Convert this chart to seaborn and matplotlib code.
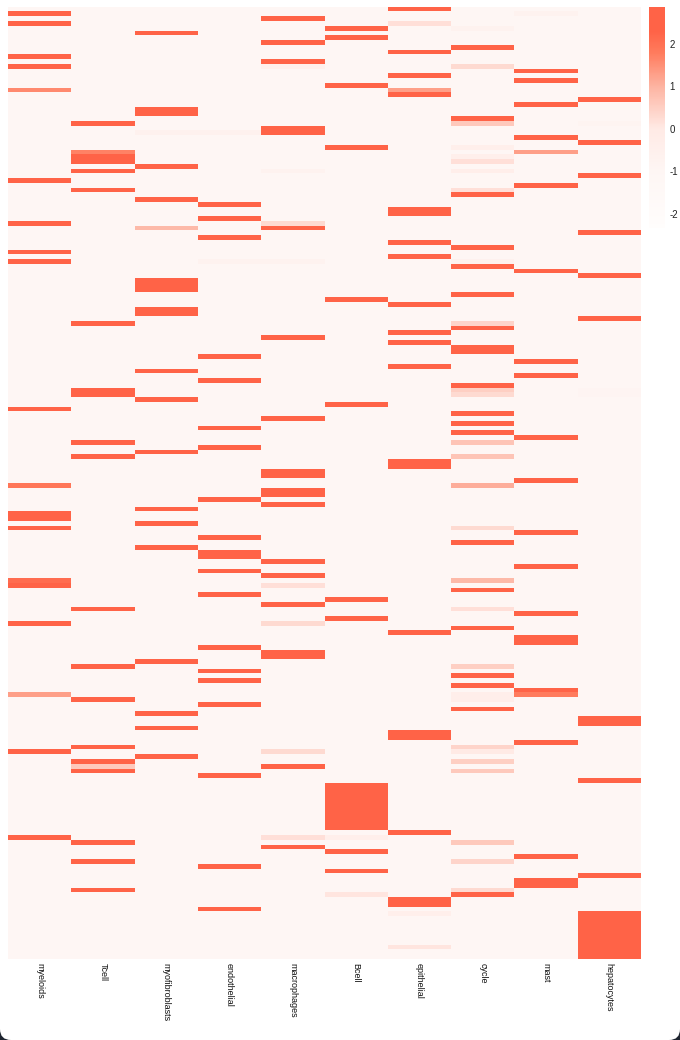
import numpy as np
import pandas as pd
import matplotlib
matplotlib.use("Agg")
import matplotlib.pyplot as plt
from matplotlib.colors import LinearSegmentedColormap
from matplotlib.patches import FancyBboxPatch, Rectangle
from matplotlib.transforms import IdentityTransform
import seaborn as sns

# columns of the heatmap
cell_types = ["myeloids", "Tcell", "myofibroblasts", "endothelial", "macrophages",
              "Bcell", "epithelial", "cycle", "mast", "hepatocytes"]
n_genes = 200
base_value = -1.0   # most cells
high_value = 2.8    # marker genes

# rows (genes) at top expression for each cell type
myeloids_high = [1, 3, 10, 12, 36, 45, 51, 53, 84, 106, 107, 109, 121, 129, 156, 174]
tcell_high = [24, 31, 32, 34, 38, 66, 80, 81, 91, 94, 126, 138, 145, 155, 158, 160, 175, 179, 185]
myofib_high = [5, 21, 22, 33, 40, 57, 58, 59, 63, 64, 76, 82, 93, 105, 108, 113, 137, 148, 151, 157]
endo_high = [41, 44, 48, 73, 78, 88, 92, 103, 111, 114, 115, 118, 123, 134, 139, 141, 146, 161, 180, 189]
macro_high = [2, 7, 11, 25, 26, 46, 69, 86, 97, 98, 101, 102, 104, 116, 119, 125, 135, 136, 159, 176]
bcell_high = [4, 6, 16, 29, 61, 83, 124, 128, 163, 164, 165, 166, 167, 168, 169, 170, 171, 172, 177, 181]
epi_high = [0, 9, 14, 18, 42, 43, 49, 52, 62, 68, 70, 75, 95, 96, 131, 152, 153, 173, 187, 188]
cycle_high = [8, 23, 39, 50, 54, 60, 67, 71, 72, 79, 85, 87, 89, 112, 122, 130, 140, 142, 147, 186]
mast_high = [13, 15, 20, 27, 37, 55, 74, 77, 90, 99, 110, 117, 127, 132, 133, 143, 154, 178, 183, 184]
hep_high = [19, 28, 35, 47, 56, 65, 149, 150, 162, 182, 190, 191, 192, 193, 194, 195, 196, 197, 198, 199]

# rows with intermediate values
myeloids_mid = {17: 1.6, 100: 1.9, 120: 2.1, 144: 1.3}
tcell_mid = {30: 1.7, 159: 0.6}
myofib_mid = {26: -0.6, 46: 0.9}
endo_mid = {26: -0.6, 53: -0.7}
macro_mid = {12: -0.5, 34: -0.7, 45: 0.3, 53: -0.7, 121: 0.2, 129: 0.3, 156: 0.3, 174: 0.2}
bcell_mid = {174: -0.4, 186: 0.1}
epi_mid = {3: 0.2, 17: 1.3, 190: -0.4, 197: 0.1}
cycle_mid = {4: -0.7, 12: 0.3, 24: 0.6, 29: -0.4, 31: -0.4, 32: 0.2, 34: -0.3, 38: 0.2,
             53: -0.6, 66: 0.4, 80: 0.5, 81: 0.3, 91: 0.7, 94: 0.7, 100: 1.1, 109: 0.3,
             120: 0.9, 126: 0.2, 138: 0.5, 144: -0.3, 145: -0.3, 155: 0.4, 156: 0.0,
             158: 0.5, 160: 0.6, 175: 0.6, 179: 0.4, 185: 0.3}
mast_mid = {1: -0.7, 30: 1.3, 144: 1.8}
hep_mid = {24: -0.8, 80: -0.85, 81: -0.85}

high_rows = [myeloids_high, tcell_high, myofib_high, endo_high, macro_high,
             bcell_high, epi_high, cycle_high, mast_high, hep_high]
mid_rows = [myeloids_mid, tcell_mid, myofib_mid, endo_mid, macro_mid,
            bcell_mid, epi_mid, cycle_mid, mast_mid, hep_mid]

vmin, vmax = -2.33, 2.87

# build the matrix
mat = np.full((n_genes, len(cell_types)), base_value)
for j in range(len(cell_types)):
    mat[high_rows[j], j] = high_value
    for r, v in mid_rows[j].items():
        mat[r, j] = v
df = pd.DataFrame(mat, columns=cell_types)

# white -> tomato scale, mostly pale below 0
def pos(v):
    return (v - vmin) / (vmax - vmin)

cmap = LinearSegmentedColormap.from_list("tomato_scale", [
    (0.0, "#fffdfc"),
    (pos(-1.0), "#fef6f4"),
    (pos(0.0), "#ffeae5"),
    (pos(1.0), "#fdb4a2"),
    (pos(1.8), "#ff7b5d"),
    (pos(2.3), "#ff6347"),
    (1.0, "#ff6347"),
])

plt.rcParams["font.family"] = ["Liberation Sans", "DejaVu Sans"]
plt.rcParams["axes.unicode_minus"] = False

fig = plt.figure(figsize=(6.8, 10.4), dpi=100)
fig.patch.set_facecolor("#1e2530")
# white card with rounded bottom corners
fig.add_artist(Rectangle((0, 520), 680, 520, transform=IdentityTransform(),
                         facecolor="white", edgecolor="none", zorder=-2))
fig.add_artist(FancyBboxPatch((0, 0), 680, 1040, boxstyle="round,pad=0,rounding_size=11",
                              transform=IdentityTransform(), facecolor="white",
                              edgecolor="none", zorder=-1))

ax = fig.add_axes([8 / 680, 1 - 959 / 1040, 633 / 680, 952.3 / 1040])
cax = fig.add_axes([649 / 680, 1 - 228 / 1040, 16 / 680, 221 / 1040])

sns.heatmap(df, ax=ax, cmap=cmap, vmin=vmin, vmax=vmax, cbar_ax=cax,
            xticklabels=True, yticklabels=False)

ax.tick_params(axis="x", length=0, pad=3)
for lbl in ax.get_xticklabels():
    lbl.set_rotation(270)
    lbl.set_ha("center")
    lbl.set_va("top")
    lbl.set_fontsize(6.5)
    lbl.set_color("#111111")
ax.set_xlabel("")
ax.set_ylabel("")

cbar = ax.collections[0].colorbar
cbar.outline.set_visible(False)
cbar.set_ticks([-2, -1, 0, 1, 2])
cbar.set_ticklabels(["-2", "-1", "0", "1", "2"])
cax.tick_params(length=0, pad=3, labelsize=7, labelcolor="#222222")

fig.savefig("out.png", dpi=100)
